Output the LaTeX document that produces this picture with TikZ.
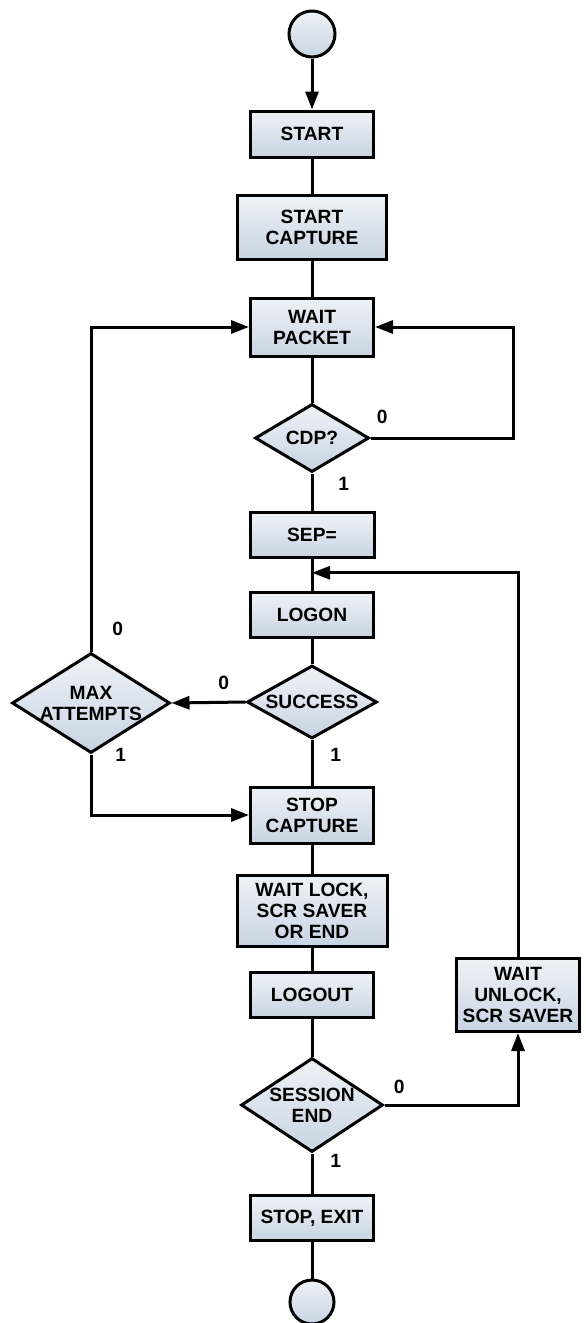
\documentclass[tikz,border=0pt]{standalone}
\usepackage{fontspec}
\setmainfont{Liberation Sans}
\usetikzlibrary{arrows.meta,positioning,shapes.geometric,calc}
\definecolor{ink}{HTML}{000000}
\definecolor{boxtop}{HTML}{EEF2F7}
\definecolor{boxbot}{HTML}{C8D4E3}
\newcommand{\flowfont}{\fontsize{9.6}{10.5}\selectfont\bfseries}

\begin{document}
\begin{tikzpicture}[
  x=0.5pt,y=-0.5pt,
  box/.style={draw=ink,line width=1.5pt,top color=boxtop,bottom color=boxbot,align=center,inner sep=2pt,minimum width=61.5pt,font=\flowfont},
  test/.style={diamond,draw=ink,line width=1.5pt,top color=boxtop,bottom color=boxbot,align=center,inner sep=0pt,font=\flowfont},
  term/.style={circle,draw=ink,line width=1.5pt,top color=boxtop,bottom color=boxbot,inner sep=0pt},
  lbl/.style={inner sep=0pt,font=\flowfont},
  line/.style={draw=ink,line width=1.5pt},
  arrow/.style={line,-{Triangle[length=9pt,width=6.5pt]}}
]
\useasboundingbox (0,0) rectangle (585,1323);
% main column
\node[term,minimum size=23pt] (startc) at (312,34) {};
\node[box,minimum height=23pt] (start) at (312,134) {START};
\node[box,minimum width=74.5pt,minimum height=32pt] (capture) at (312,227) {START\\CAPTURE};
\node[box,minimum height=29pt] (waitpkt) at (312,327) {WAIT\\PACKET};
\node[test,aspect=1.68,minimum width=57pt,minimum height=34pt] (cdp) at (312,438) {CDP?};
\node[box,minimum width=62pt,minimum height=22.5pt] (sep) at (312,535) {SEP=};
\node[box,minimum height=22.5pt] (logon) at (312,615) {LOGON};
\node[test,aspect=1.78,minimum width=65pt,minimum height=36.5pt] (success) at (312,702) {SUCCESS};
\node[test,aspect=1.58,minimum width=79pt,minimum height=50pt] (maxatt) at (91,703) {MAX\\ATTEMPTS};
\node[box,minimum height=28pt] (stopcap) at (312,815) {STOP\\CAPTURE};
\node[box,minimum width=75pt,minimum height=35.5pt] (waitlock) at (312,911) {WAIT LOCK,\\SCR SAVER\\OR END};
\node[box,minimum height=22.5pt] (logout) at (312,995) {LOGOUT};
\node[box,minimum height=36.5pt] (unlock) at (518,995) {WAIT\\UNLOCK,\\SCR SAVER};
\node[test,aspect=1.51,minimum width=71pt,minimum height=47pt] (sessend) at (312,1105) {SESSION\\END};
\node[box,minimum height=22.5pt] (stopexit) at (312,1218) {STOP, EXIT};
\node[term,minimum size=22pt] (endc) at (312,1302) {};
% branch labels
\node[lbl,above right=7pt and 3pt of cdp.east] (cdp0) {0};
\node[lbl,below right=1.5pt and 13pt of cdp.south] (cdp1) {1};
\node[lbl,above left=6pt and 8pt of success.west] (success0) {0};
\node[lbl,below right=4pt and 9pt of success.south] (success1) {1};
\node[lbl,above right=7.5pt and 10.5pt of maxatt.north] (maxatt0) {0};
\node[lbl,right=12pt of maxatt.south] (maxatt1) {1};
\node[lbl,above right=5.5pt and 4.5pt of sessend.east] (sessend0) {0};
\node[lbl,below right=0pt and 9pt of sessend.south] (sessend1) {1};
% connectors
\coordinate (loopr) at (513,438);
\coordinate (join) at ($(sep.south)!0.43!(logon.north)$);
\draw[arrow] (startc)--(start);
\draw[line] (start)--(capture);
\draw[line] (capture)--(waitpkt);
\draw[line] (waitpkt)--(cdp);
\draw[line] (cdp)--(sep);
\draw[line] (sep)--(logon);
\draw[line] (logon)--(success);
\draw[line] (success)--(stopcap);
\draw[line] (stopcap)--(waitlock);
\draw[line] (waitlock)--(logout);
\draw[line] (logout)--(sessend);
\draw[line] (sessend)--(stopexit);
\draw[line] (stopexit)--(endc);
\draw[arrow] (cdp.east)--(loopr)|-(waitpkt.east);
\draw[arrow] (success.west)--(maxatt.east);
\draw[arrow] (maxatt.north)|-(waitpkt.west);
\draw[arrow] (maxatt.south)|-(stopcap.west);
\draw[arrow] (sessend.east)-|(unlock.south);
\draw[arrow] (unlock.north)|-(join);
\end{tikzpicture}
\end{document}
